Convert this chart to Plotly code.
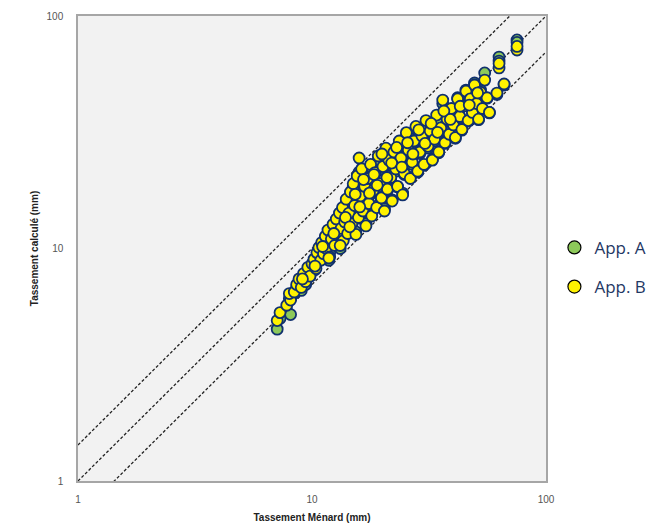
import plotly.graph_objects as go

# Tassement Ménard (mm) for each case
menard = [
    7.1, 7.3, 7.8, 8.1, 8.0, 8.4, 8.6, 8.8, 9.0, 9.2, 9.4, 9.6, 9.8, 10.0,
    10.2, 10.4, 10.5, 10.7, 10.9, 11.0, 11.2, 11.4, 11.5, 11.7, 11.9, 12.1, 12.3, 12.5, 12.7, 12.9,
    13.1, 13.3, 13.5, 13.6, 13.8, 14.0, 14.2, 14.4, 14.6, 14.8, 15.0, 15.2, 15.4, 15.6, 15.8, 15.9,
    16.1, 16.3, 16.5, 16.8, 17.0,
    17.3, 17.5, 17.8, 18.0, 18.3, 18.6, 18.9, 19.2, 19.5, 19.8, 20.1, 20.4, 20.7, 21.0, 21.3, 21.7,
    22.0, 22.4, 22.8, 23.2, 23.6, 24.0, 24.4, 24.8,
    25.3, 25.8, 26.3, 26.8, 27.3, 27.8, 28.3, 28.9, 29.5, 30.1, 30.7, 31.3, 32.0, 32.7, 33.4, 34.1,
    34.8, 35.5, 36.2, 37.0, 37.8, 38.6, 39.4,
    40.2, 41.0, 41.9, 42.8, 43.7, 44.6, 45.5, 46.5, 47.5, 48.5, 49.5, 50.5, 51.5, 52.5, 53.5, 54.7,
    56.0, 57.3, 61.7, 63.0, 63.0, 66.2, 75.2, 75.2,
    # second batch of cases
    9.1, 10.3, 11.1, 11.8, 12.4, 13.2, 13.9, 14.5, 15.3, 16.0, 16.6, 17.6, 18.4, 19.0, 19.9,
    20.9, 21.9, 23.0, 24.2, 25.6, 27.0, 28.6, 30.4, 32.3, 34.4, 36.6, 39.0, 43.0, 47.0, 51.0,
]

# Tassement calculé (mm), approach A
calc_a = [
    4.5, 5.0, 5.4, 5.2, 6.1, 6.4, 6.8, 7.0, 6.6, 7.5, 7.0, 8.0, 7.6, 8.4,
    8.8, 8.5, 9.3, 9.7, 9.0, 10.2, 9.4, 10.8, 10.1, 11.6, 9.6, 10.9, 12.3, 10.5, 13.0, 11.5,
    13.8, 12.4, 14.6, 11.0, 12.8, 15.8, 11.8, 14.0, 17.2, 12.6, 18.4, 15.0, 11.8, 20.0, 13.5, 21.3,
    16.5, 21.0, 14.3, 18.0, 12.8,
    19.6, 15.4, 22.5, 14.0, 17.5, 21.0, 15.2, 24.0, 18.8, 16.3, 22.0, 14.8, 26.0, 17.8, 23.5, 20.0,
    16.2, 25.4, 21.5, 18.4, 28.0, 24.0, 17.3, 20.8,
    30.5, 26.0, 20.2, 23.0, 28.5, 32.5, 21.3, 25.6, 30.0, 22.8, 34.5, 27.0, 31.5, 24.2, 29.0, 36.0,
    25.8, 32.5, 42.0, 28.3, 35.2, 30.6, 39.0,
    33.8, 29.8, 44.5, 36.5, 32.3, 41.5, 48.0, 35.3, 44.8, 38.3, 51.5, 42.5, 35.8, 48.0, 39.8, 56.9,
    44.3, 38.3, 46.0, 66.6, 64.0, 50.5, 78.9, 77.0,
    7.1, 8.1, 9.8, 8.9, 11.3, 10.0, 13.2, 12.1, 16.6, 14.7, 19.3, 16.9, 20.3, 18.3, 24.9,
    19.8, 22.8, 26.6, 21.9, 27.9, 25.0, 31.8, 27.8, 33.8, 31.0, 38.3, 35.3, 40.2, 41.0, 46.1,
]

# Tassement calculé (mm), approach B
calc_b = [
    4.9, 5.3, 5.7, 6.0, 6.4, 6.5, 7.0, 7.4, 6.8, 7.8, 7.2, 8.3, 7.6, 8.6,
    9.0, 8.2, 9.6, 10.1, 8.9, 10.6, 9.5, 11.3, 10.0, 12.0, 9.2, 11.0, 12.7, 10.3, 13.4, 11.7,
    14.2, 12.2, 15.0, 10.8, 13.0, 16.3, 11.6, 14.2, 17.5, 12.8, 19.0, 15.3, 11.5, 20.5, 13.6, 24.5,
    16.8, 22.0, 14.5, 18.5, 12.5,
    20.0, 15.6, 23.0, 13.8, 17.8, 21.2, 15.0, 25.0, 19.0, 16.5, 22.5, 14.5, 27.0, 18.0, 24.0, 20.2,
    16.0, 26.0, 22.0, 18.5, 29.0, 24.5, 17.0, 21.0,
    31.5, 26.5, 20.0, 23.5, 29.0, 33.5, 21.5, 26.0, 30.5, 23.0, 35.5, 27.5, 32.0, 24.0, 29.5, 37.5,
    26.0, 33.0, 43.5, 28.5, 36.0, 31.0, 40.0,
    34.0, 30.0, 44.0, 37.0, 32.5, 41.0, 47.5, 35.5, 44.0, 38.5, 50.5, 42.0, 36.0, 47.0, 40.0, 53.0,
    44.5, 38.5, 46.6, 59.8, 62.5, 51.0, 71.4, 74.0,
    7.4, 8.4, 10.2, 9.1, 11.6, 10.3, 13.6, 12.4, 17.1, 15.1, 19.8, 17.3, 20.8, 18.7, 25.5,
    20.2, 23.3, 27.2, 22.4, 28.5, 25.5, 32.4, 28.3, 34.5, 31.6, 39.0, 35.9, 40.9, 41.4, 46.7,
]

# Ratios calculé / Ménard of the reference lines (-30 %, 1:1, +43 %)
ratio_lines = [0.7, 1.0, 1 / 0.7]

series_names = ["App. A", "App. B"]
fill_colors = ["#8dc95a", "#fff200"]
edge_color = "#10306e"

fig = go.Figure()

for r in ratio_lines:
    fig.add_trace(go.Scatter(
        x=[1, 100], y=[r * 1, r * 100], mode="lines",
        line=dict(color="#222222", width=1.3, dash="3px,2px"),
        showlegend=False, hoverinfo="skip",
    ))

for name, ys, col in zip(series_names, [calc_a, calc_b], fill_colors):
    fig.add_trace(go.Scatter(
        x=menard, y=ys, mode="markers", name=name, showlegend=False,
        marker=dict(size=11, color=col, line=dict(color=edge_color, width=1.8)),
    ))

# Legend entries
for name, col in zip(series_names, fill_colors):
    fig.add_trace(go.Scatter(
        x=[None], y=[None], mode="markers", name=name, legendgroup=name,
        marker=dict(size=13, color=col, line=dict(color="#000000", width=1.2)),
    ))

axis_common = dict(
    type="log", range=[0, 2], showgrid=False, zeroline=False,
    showline=True, linecolor="#a6a6a6", linewidth=1.5, mirror=True,
    ticks="", tickvals=[1, 10, 100], ticktext=["1", "10", "100"],
    automargin=False,
    tickfont=dict(family="Liberation Sans, Arial, sans-serif", size=10, color="#555555"),
)

fig.update_layout(
    width=661, height=530,
    margin=dict(l=78, r=115, t=16, b=49, autoexpand=False),
    paper_bgcolor="white", plot_bgcolor="#f2f2f2",
    xaxis=dict(
        **axis_common, ticklabelstandoff=8,
        title=dict(text="<b>Tassement Ménard (mm)</b>", standoff=10,
                   font=dict(family="Liberation Sans, Arial, sans-serif", size=10, color="#222222")),
    ),
    yaxis=dict(
        **axis_common, ticklabelstandoff=11,
        title=dict(text="<b>Tassement calculé (mm)</b>", standoff=6,
                   font=dict(family="Liberation Sans, Arial, sans-serif", size=10, color="#222222")),
    ),
    legend=dict(
        x=1.018, y=0.54, xanchor="left", yanchor="top",
        font=dict(family="Open Sans, sans-serif", size=17, color="#1f3864"),
        bgcolor="rgba(0,0,0,0)", tracegroupgap=14, traceorder="grouped",
        itemwidth=30,
    ),
    showlegend=True,
)

fig.write_html("out.html")
